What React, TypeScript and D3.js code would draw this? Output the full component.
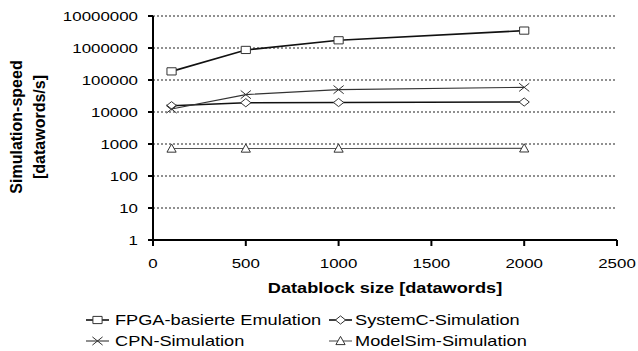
import * as d3 from 'd3';

const sizes = [100, 500, 1000, 2000];
const fpga = [186000, 870000, 1740000, 3500000];
const systemc = [15700, 19500, 19800, 20500];
const cpn = [12400, 35000, 50000, 59000];
const modelsim = [720, 720, 720, 730];

const yTicks = [1, 10, 100, 1000, 10000, 100000, 1000000, 10000000];
const xTicks = [0, 500, 1000, 1500, 2000, 2500];

const FONT = '"Liberation Sans", Arial, sans-serif';
const SX = 1.3;

const series = [
  { name: 'FPGA-basierte Emulation', values: fpga, marker: 'square', color: '#111', width: 1.6 },
  { name: 'SystemC-Simulation', values: systemc, marker: 'diamond', color: '#111', width: 1.6 },
  { name: 'CPN-Simulation', values: cpn, marker: 'cross', color: '#333', width: 1.1 },
  { name: 'ModelSim-Simulation', values: modelsim, marker: 'triangle', color: '#555', width: 1.1 },
];

function markerPath(type: string, cx: number, cy: number) {
  const hw = 4.6, hh = 3.6;
  if (type === 'square') return `M${cx - hw},${cy - hh}H${cx + hw}V${cy + hh}H${cx - hw}Z`;
  if (type === 'diamond') return `M${cx - hw - 0.5},${cy}L${cx},${cy - hh - 0.5}L${cx + hw + 0.5},${cy}L${cx},${cy + hh + 0.5}Z`;
  if (type === 'triangle') return `M${cx - hw},${cy + hh}L${cx},${cy - hh - 1}L${cx + hw},${cy + hh}Z`;
  return `M${cx - hw - 0.5},${cy - hh - 0.5}L${cx + hw + 0.5},${cy + hh + 0.5}M${cx - hw - 0.5},${cy + hh + 0.5}L${cx + hw + 0.5},${cy - hh - 0.5}`;
}

const App = () => {
  const x = d3.scaleLinear().domain([0, 2500]).range([153, 617]);
  const y = d3.scaleLog().domain([1, 1e7]).range([240, 16]);
  const line = d3.line<[number, number]>().x(d => x(d[0])).y(d => y(d[1]));

  const legendPos = [
    { lx: 86, tx: 115, ty: 320 },
    { lx: 329, tx: 355, ty: 320 },
    { lx: 86, tx: 115, ty: 341 },
    { lx: 329, tx: 355, ty: 341 },
  ];

  return (
    <svg width={638} height={351} style={{ position: 'absolute', left: 0, top: 0, background: '#fff' }}>
      {/* grid */}
      {yTicks.slice(1).map(t => (
        <line key={t} x1={x(0)} x2={615} y1={y(t)} y2={y(t)} stroke="#222" strokeWidth={1.2} strokeDasharray="2,2" />
      ))}
      {/* axes */}
      <line x1={x(0)} x2={x(0)} y1={y(1e7)} y2={y(1) + 1} stroke="#000" strokeWidth={2} />
      <line x1={x(0) - 1} x2={x(2500)} y1={y(1)} y2={y(1)} stroke="#000" strokeWidth={2} />
      {yTicks.map(t => (
        <g key={t}>
          <line x1={x(0) - 5} x2={x(0)} y1={y(t)} y2={y(t)} stroke="#000" strokeWidth={2} />
          <text transform={`translate(138,${y(t) + 4.6}) scale(${SX},1)`} textAnchor="end" fontFamily={FONT} fontSize={13} fill="#000">
            {String(t)}
          </text>
        </g>
      ))}
      {xTicks.map(t => (
        <g key={t}>
          <line x1={x(t)} x2={x(t)} y1={y(1)} y2={y(1) + 6} stroke="#000" strokeWidth={2} />
          <text transform={`translate(${x(t)},267.5) scale(${SX},1)`} textAnchor="middle" fontFamily={FONT} fontSize={13} fill="#000">
            {String(t)}
          </text>
        </g>
      ))}
      {/* titles */}
      <text transform={`translate(385,292.5) scale(${SX},1)`} textAnchor="middle" fontFamily={FONT} fontSize={14} fontWeight="bold">
        Datablock size [datawords]
      </text>
      <text transform="translate(22,127) rotate(-90)" textAnchor="middle" fontFamily={FONT} fontSize={16} fontWeight="bold">
        Simulation-speed
      </text>
      <text transform="translate(45,127) rotate(-90)" textAnchor="middle" fontFamily={FONT} fontSize={16} fontWeight="bold">
        [datawords/s]
      </text>
      {/* series */}
      {series.map(s => (
        <g key={s.name}>
          <path d={line(sizes.map((v, i) => [v, s.values[i]] as [number, number])) || ''} fill="none" stroke={s.color} strokeWidth={s.width} />
          {sizes.map((v, i) => (
            <path key={v} d={markerPath(s.marker, x(v), y(s.values[i]))} fill={s.marker === 'cross' ? 'none' : '#fff'} stroke="#333" strokeWidth={1} />
          ))}
        </g>
      ))}
      {/* legend */}
      {series.map((s, i) => {
        const p = legendPos[i];
        return (
          <g key={s.name}>
            <line x1={p.lx} x2={p.lx + 23} y1={p.ty} y2={p.ty} stroke={s.color} strokeWidth={s.width} />
            <path d={markerPath(s.marker, p.lx + 11.5, p.ty)} fill={s.marker === 'cross' ? 'none' : '#fff'} stroke="#333" strokeWidth={1} />
            <text transform={`translate(${p.tx},${p.ty + 5}) scale(${SX},1)`} fontFamily={FONT} fontSize={14} fill="#000">
              {s.name}
            </text>
          </g>
        );
      })}
    </svg>
  );
};

export default App;
